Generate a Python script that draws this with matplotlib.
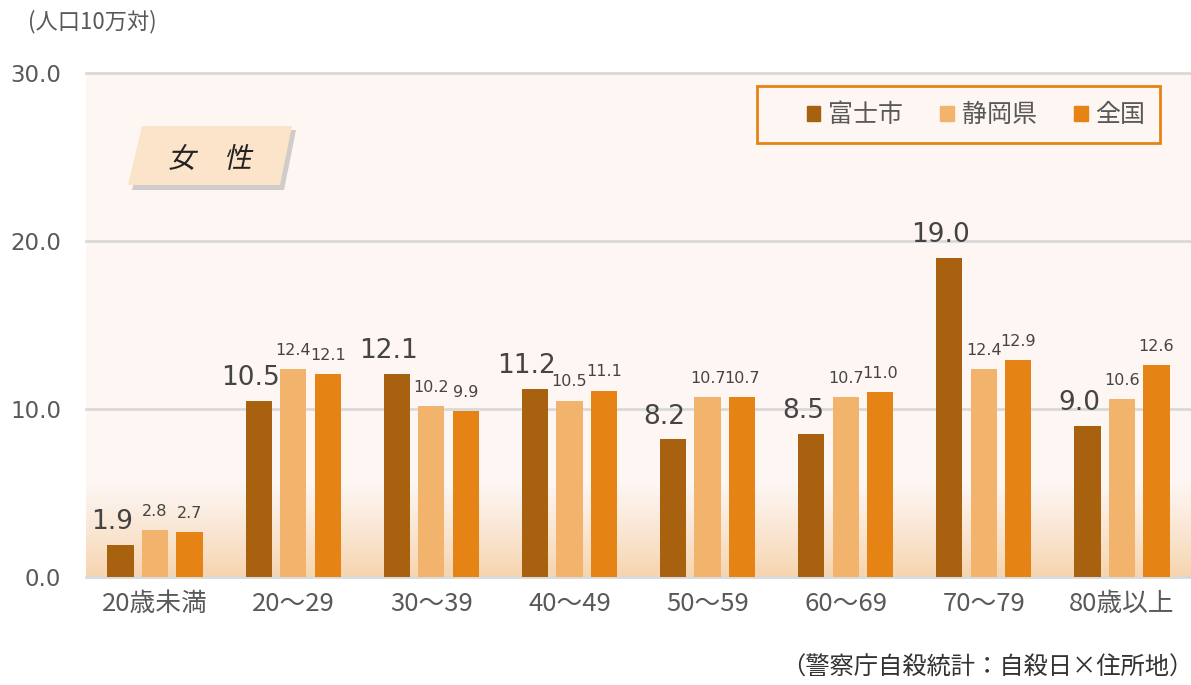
import numpy as np
import matplotlib
matplotlib.use("Agg")
import matplotlib.pyplot as plt
from matplotlib.patches import Polygon, Patch, PathPatch, Rectangle
from matplotlib.textpath import TextPath
from matplotlib.font_manager import FontProperties
from matplotlib.transforms import Affine2D, IdentityTransform

plt.rcParams['font.family'] = ['Noto Sans CJK JP', 'DejaVu Sans']

# data
ages = ['20歳未満', '20～29', '30～39', '40～49', '50～59', '60～69', '70～79', '80歳以上']
fuji = [1.9, 10.5, 12.1, 11.2, 8.2, 8.5, 19.0, 9.0]
shizuoka = [2.8, 12.4, 10.2, 10.5, 10.7, 10.7, 12.4, 10.6]
zenkoku = [2.7, 12.1, 9.9, 11.1, 10.7, 11.0, 12.9, 12.6]
series_names = ['富士市', '静岡県', '全国']
colors = ['#A8610E', '#F2B46C', '#E58315']
yticks = [0, 10, 20, 30]

txt = '#595959'
bg = '#FDF6F3'

W, H = 1191, 685
fig = plt.figure(figsize=(W / 100, H / 100), dpi=100)
ax = fig.add_axes([86 / W, 108 / H, 1105 / W, 504 / H])
ax.set_facecolor(bg)

x = np.arange(len(ages))
ax.set_xlim(-0.5, len(ages) - 0.5)
ax.set_ylim(0, 30)

# gradient at the bottom
grad = np.linspace(0, 1, 100).reshape(-1, 1)
c_top = np.array(matplotlib.colors.to_rgb(bg))
c_bot = np.array(matplotlib.colors.to_rgb('#F6D4AE'))
img = c_bot + (c_top - c_bot) * grad[..., None] ** 0.9
ax.imshow(img.reshape(100, 1, 3), extent=[-0.5, len(ages) - 0.5, 0, 5.5],
          origin='lower', aspect='auto', zorder=0, interpolation='bilinear')

for y in yticks:
    ax.axhline(y, color='#D9D9D9', lw=2, zorder=1, clip_on=False)

offs = [-0.25, 0, 0.25]
bw = 0.19
for i, (vals, c) in enumerate(zip([fuji, shizuoka, zenkoku], colors)):
    bars = ax.bar(x + offs[i], vals, bw, color=c, zorder=2, label=series_names[i])
    for b, v in zip(bars, vals):
        if i == 0:
            ax.annotate(f'{v:.1f}', (b.get_x() + b.get_width() / 2, v),
                        xytext=(-6, 7), textcoords='offset points',
                        ha='center', va='bottom', fontsize=19, color='#444444',
                        family='DejaVu Sans', zorder=3)
        else:
            ax.annotate(f'{v:.1f}', (b.get_x() + b.get_width() / 2, v),
                        xytext=(0, 8), textcoords='offset points',
                        ha='center', va='bottom', fontsize=11.5, color='#444444',
                        family='DejaVu Sans', zorder=3)

for s in ax.spines.values():
    s.set_visible(False)
ax.set_xticks(x)
ax.set_xticklabels(ages, fontsize=18.5, color=txt)
ax.set_yticks(yticks)
ax.set_yticklabels([f'{v:.1f}' for v in yticks], fontsize=16.5, color=txt, family='DejaVu Sans')
ax.tick_params(axis='both', length=0)
ax.tick_params(axis='y', pad=18)
ax.tick_params(axis='x', pad=10)

# legend: box drawn separately, entries placed inside
def px(v):
    return (v - 86) / 1105

def pyax(v):
    return (577 - v) / 504

ax.add_patch(Rectangle((px(757), pyax(143)), px(1160) - px(757), pyax(86) - pyax(143),
                       transform=ax.transAxes, facecolor=bg, edgecolor='#E58315',
                       lw=2, zorder=4))
handles = [Patch(color=c) for c in colors]
leg = ax.legend(handles, series_names, ncol=3, loc='center',
                bbox_to_anchor=(px(976), pyax(115)),
                fontsize=18, frameon=False,
                handlelength=0.55, handleheight=0.55, handletextpad=0.3,
                columnspacing=1.5, borderpad=0, borderaxespad=0, labelcolor=txt)
leg.set_zorder(5)

# 女性 badge in pixel coordinates
def py(v):
    return H - v

shadow = Polygon([(146, py(130)), (296, py(130)), (284, py(190)), (132, py(190))],
                 closed=True, transform=IdentityTransform(), facecolor='#999999',
                 alpha=0.45, edgecolor='none', zorder=5)
fig.patches.append(shadow)
badge = Polygon([(142, py(126)), (292, py(126)), (280, py(185)), (128, py(185))],
                closed=True, transform=IdentityTransform(), facecolor='#FBE4CA',
                edgecolor='none', zorder=6)
fig.patches.append(badge)
fp = FontProperties(family='Noto Sans CJK JP')
tp = TextPath((0, 0), '女　性', size=28, prop=fp)
ext = tp.get_extents()
tr = (Affine2D().translate(-(ext.x0 + ext.x1) / 2, -(ext.y0 + ext.y1) / 2)
      .skew_deg(12, 0).translate(212, py(157)))
fig.patches.append(PathPatch(tr.transform_path(tp), transform=IdentityTransform(),
                             facecolor='#222222', edgecolor='none', zorder=7))

fig.text(28 / W, py(22) / H, '(人口10万対)', fontsize=16, color=txt, va='center')
fig.text(1193 / W, py(668) / H, '（警察庁自殺統計：自殺日×住所地）', fontsize=17.5,
         color='#333333', ha='right', va='center')

fig.savefig('out.png', dpi=100)
